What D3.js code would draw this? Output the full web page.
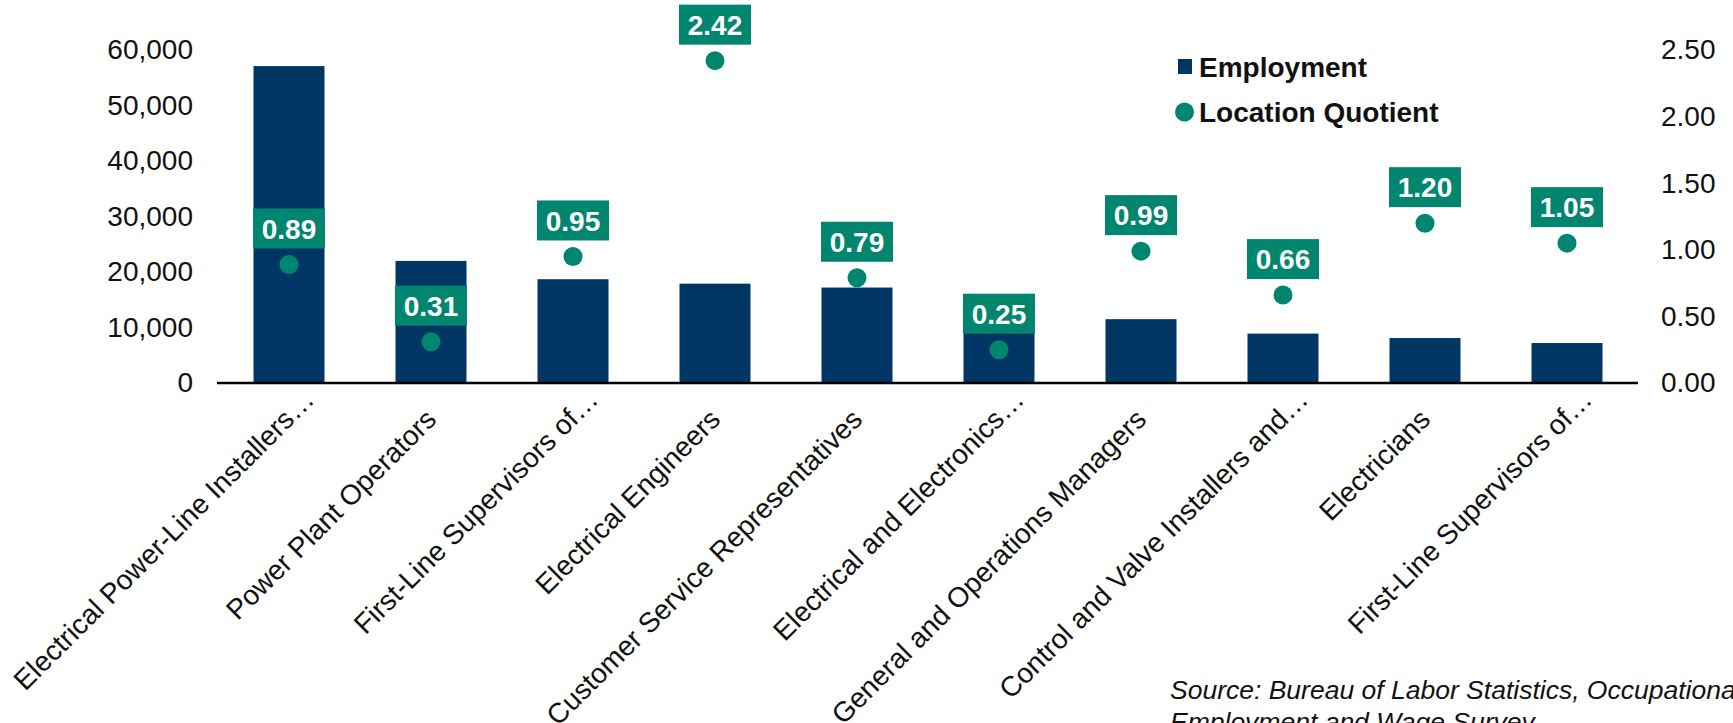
<!DOCTYPE html>
<html>
<head>
<meta charset="utf-8">
<script src="https://cdn.jsdelivr.net/npm/d3@7"></script>
<style>
  html, body { margin: 0; padding: 0; background: #fff; overflow: hidden; }
  svg { display: block; font-family: "Liberation Sans", Arial, sans-serif; }
</style>
</head>
<body>
<svg id="chart" width="1733" height="723"></svg>
<script>
const categories = [
  "Electrical Power-Line Installers…",
  "Power Plant Operators",
  "First-Line Supervisors of…",
  "Electrical Engineers",
  "Customer Service Representatives",
  "Electrical and Electronics…",
  "General and Operations Managers",
  "Control and Valve Installers and…",
  "Electricians",
  "First-Line Supervisors of…"
];
const employment = [57100, 22000, 18700, 17900, 17200, 9600, 11500, 8900, 8100, 7200];
const locationQuotient = [0.89, 0.31, 0.95, 2.42, 0.79, 0.25, 0.99, 0.66, 1.20, 1.05];
const leftTicks = [0, 10000, 20000, 30000, 40000, 50000, 60000];
const rightTicks = [0, 0.5, 1.0, 1.5, 2.0, 2.5];
const legendLabels = ["Employment", "Location Quotient"];
const sourceLines = ["Source: Bureau of Labor Statistics, Occupational", "Employment and Wage Survey"];

const NAVY = "#003663";
const TEAL = "#00866F";

const svg = d3.select("#chart");
const x = d3.scaleBand().domain(d3.range(categories.length)).range([218, 1638])
  .paddingInner(0.5).paddingOuter(0.25);
const yL = d3.scaleLinear().domain([0, 60000]).range([383, 50]);
const yR = d3.scaleLinear().domain([0, 2.5]).range([383, 50]);

// bars
svg.append("g").selectAll("rect").data(employment).join("rect")
  .attr("x", (d, i) => x(i))
  .attr("width", x.bandwidth())
  .attr("y", d => yL(d))
  .attr("height", d => yL(0) - yL(d))
  .attr("fill", NAVY);

// left axis
const gL = svg.append("g").attr("transform", "translate(193,0)")
  .call(d3.axisLeft(yL).tickValues(leftTicks).tickSize(0).tickPadding(0).tickFormat(d3.format(",")));
gL.select(".domain").remove();
gL.selectAll("text").attr("font-size", 28).attr("fill", "#111").attr("font-family", "Liberation Sans, Arial, sans-serif");

// right axis
const gR = svg.append("g").attr("transform", "translate(1661,0)")
  .call(d3.axisRight(yR).tickValues(rightTicks).tickSize(0).tickPadding(0).tickFormat(d3.format(".2f")));
gR.select(".domain").remove();
gR.selectAll("text").attr("font-size", 28).attr("fill", "#111").attr("font-family", "Liberation Sans, Arial, sans-serif");

// baseline axis
svg.append("line")
  .attr("x1", 217).attr("x2", 1638)
  .attr("y1", yL(0)).attr("y2", yL(0))
  .attr("stroke", "#000").attr("stroke-width", 2.5);

// x labels
const lab = svg.append("g").selectAll("g").data(categories).join("g")
  .attr("transform", (d, i) => `translate(${x(i) + x.bandwidth() / 2 + 7},${yL(0) + 38}) rotate(-45)`);
lab.append("text")
  .attr("text-anchor", "end")
  .attr("font-size", 28).attr("fill", "#111")
  .text(d => d.replace("…", ""));
lab.filter(d => d.endsWith("…")).append("text")
  .attr("text-anchor", "start")
  .attr("font-size", 28).attr("fill", "#111")
  .text("…");

// LQ dots
svg.append("g").selectAll("circle").data(locationQuotient).join("circle")
  .attr("cx", (d, i) => x(i) + x.bandwidth() / 2)
  .attr("cy", d => yR(d))
  .attr("r", 9.5)
  .attr("fill", TEAL);

// LQ label boxes
const boxW = 72, boxH = 40, gap = 16;
const lbl = svg.append("g").selectAll("g").data(locationQuotient).join("g")
  .attr("transform", (d, i) => `translate(${x(i) + x.bandwidth() / 2},${yR(d) - gap - boxH / 2})`);
lbl.append("rect")
  .attr("x", -boxW / 2).attr("y", -boxH / 2)
  .attr("width", boxW).attr("height", boxH)
  .attr("fill", TEAL);
lbl.append("text")
  .attr("text-anchor", "middle").attr("dy", "0.36em")
  .attr("font-size", 28).attr("font-weight", "bold").attr("fill", "#fff")
  .text(d => d3.format(".2f")(d));

// legend
const lg = svg.append("g");
lg.append("rect").attr("x", 1178).attr("y", 59).attr("width", 14).attr("height", 15).attr("fill", NAVY);
lg.append("text").attr("x", 1199).attr("y", 67).attr("dy", "0.36em")
  .attr("font-size", 28).attr("font-weight", "bold").attr("fill", "#111").text(legendLabels[0]);
lg.append("circle").attr("cx", 1184.5).attr("cy", 112).attr("r", 9.5).attr("fill", TEAL);
lg.append("text").attr("x", 1199).attr("y", 112).attr("dy", "0.36em")
  .attr("font-size", 28).attr("font-weight", "bold").attr("fill", "#111").text(legendLabels[1]);

// source
svg.append("g").selectAll("text").data(sourceLines).join("text")
  .attr("x", 1170).attr("y", (d, i) => 699 + i * 32)
  .attr("font-size", 26.5).attr("font-style", "italic").attr("fill", "#111")
  .text(d => d);
</script>
</body>
</html>
